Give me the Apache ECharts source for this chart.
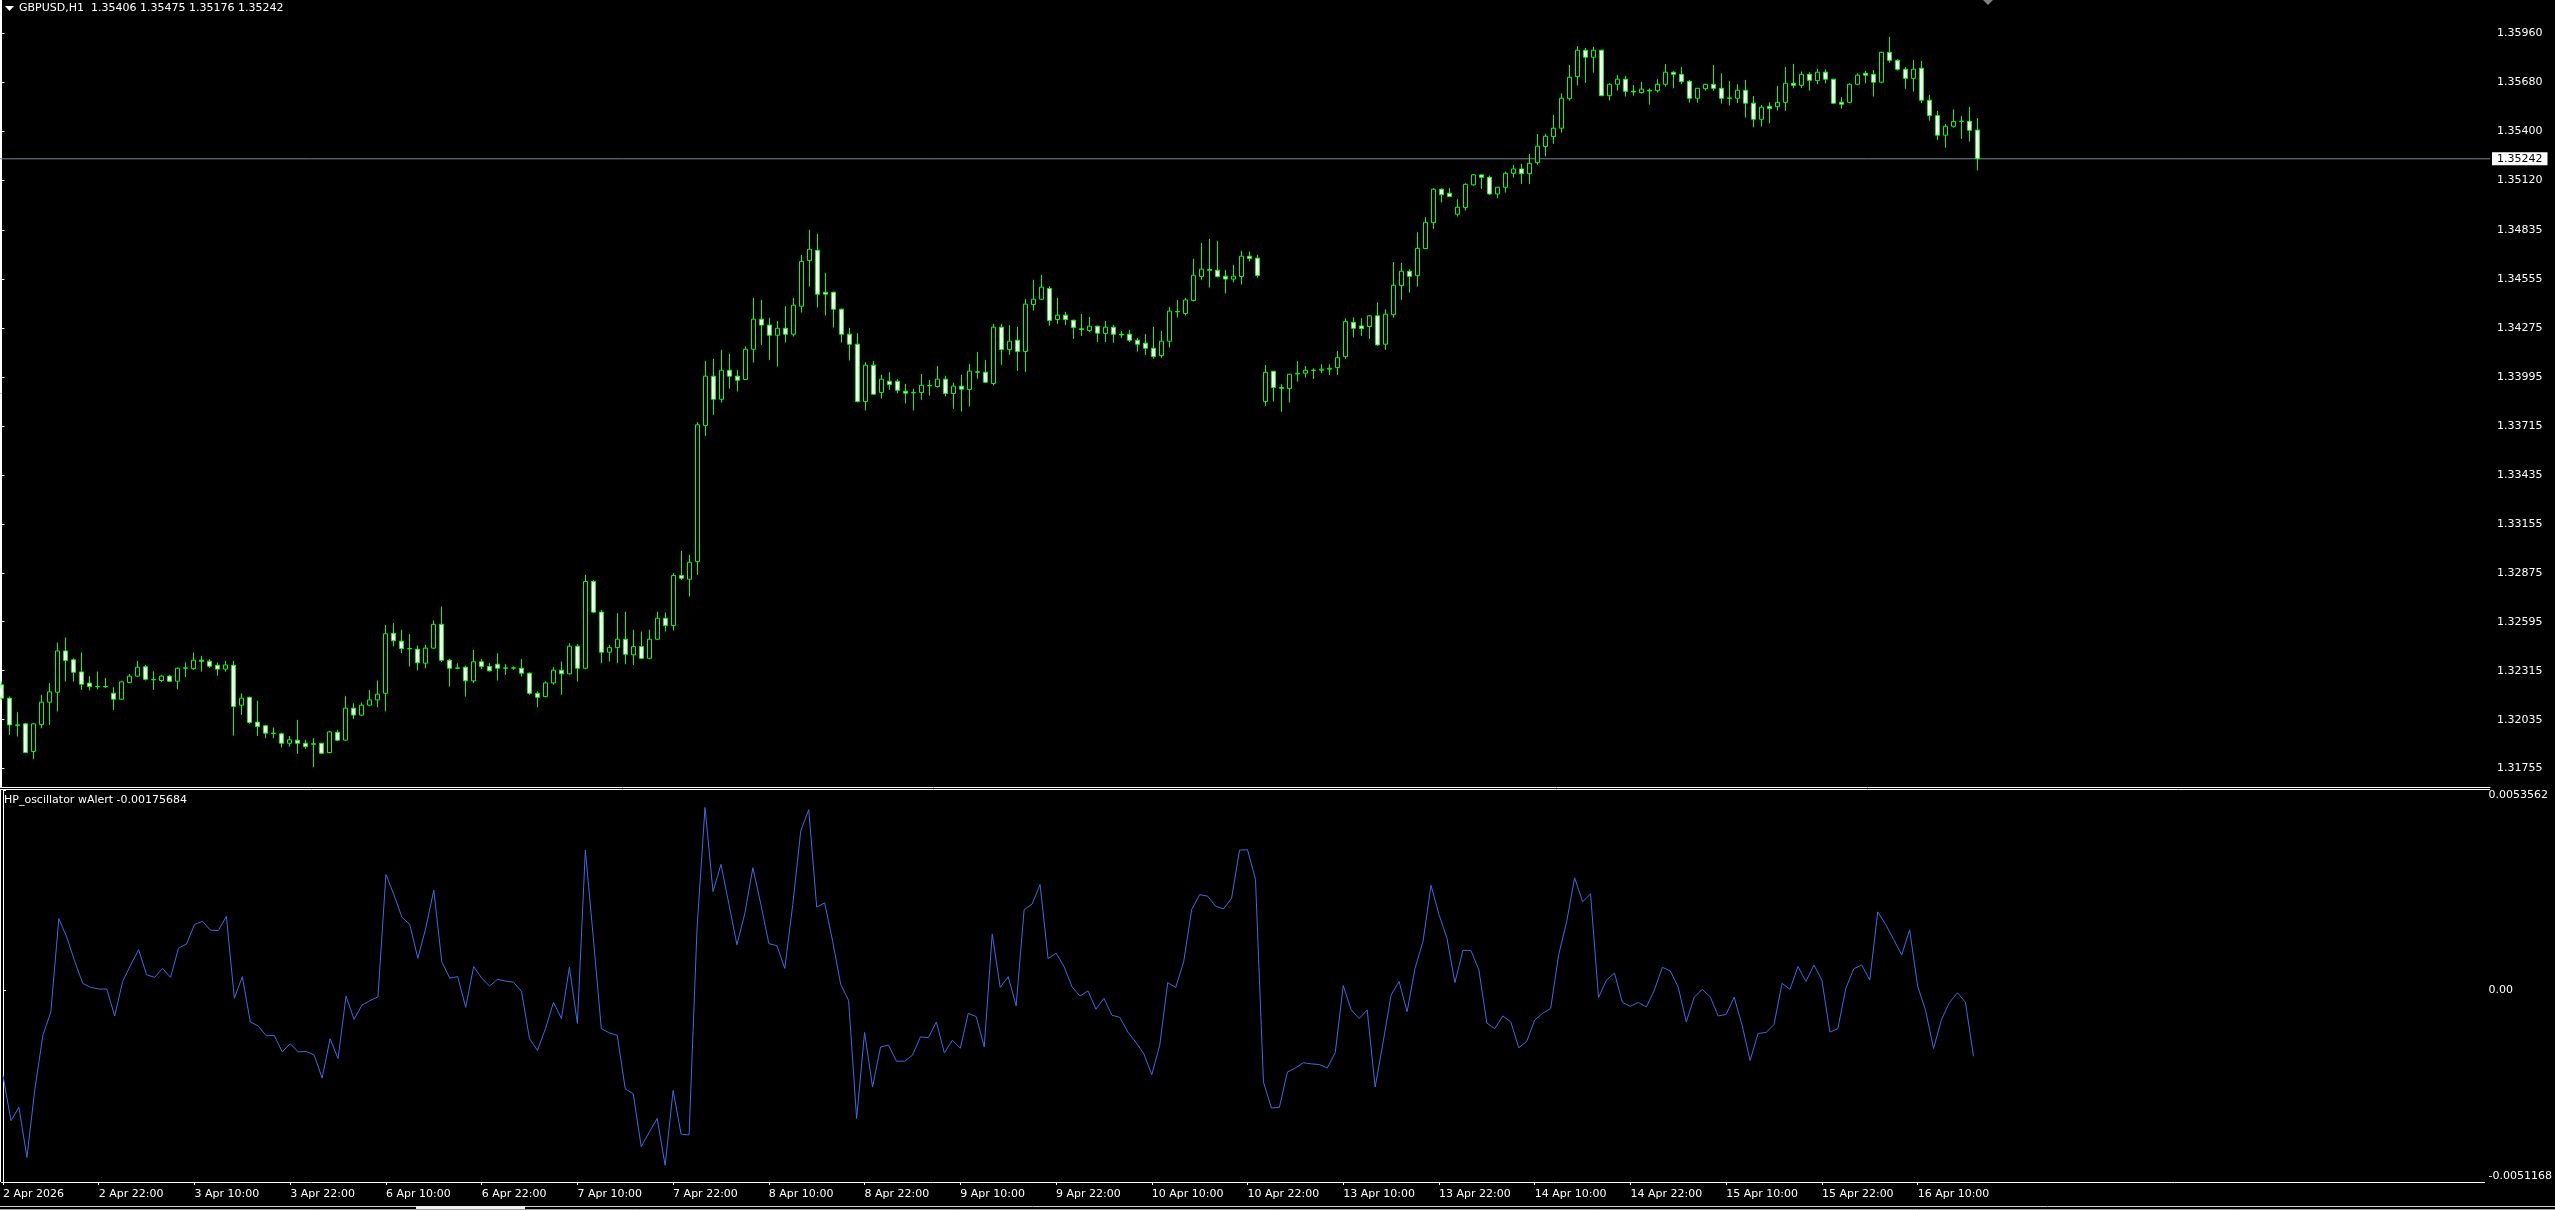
<!DOCTYPE html>
<html><head><meta charset="utf-8">
<script src="https://cdn.jsdelivr.net/npm/echarts@6/dist/echarts.min.js"></script>
<style>html,body{margin:0;padding:0;background:#000;overflow:hidden}#c{width:2555px;height:1210px}</style>
</head><body><div id="c"></div>
<script>
const symbolName = 'GBPUSD,H1';
const indicatorName = 'HP_oscillator wAlert';

const openP = [1.32234,1.32158,1.32005,1.32011,1.31853,1.32007,1.32135,1.32192,1.32428,1.32377,1.32308,1.32244,1.32224,1.32225,1.32186,1.32152,1.32247,1.32284,1.32337,1.32265,1.32259,1.32284,1.32255,1.32329,1.32327,1.32375,1.32369,1.32346,1.32324,1.32346,1.32118,1.32163,1.32021,1.32000,1.31958,1.31954,1.31900,1.31918,1.31900,1.31897,1.31900,1.31847,1.31963,1.31918,1.32101,1.32061,1.32118,1.32148,1.32186,1.32529,1.32484,1.32442,1.32438,1.32358,1.32444,1.32580,1.32375,1.32331,1.32335,1.32257,1.32366,1.32339,1.32352,1.32331,1.32331,1.32329,1.32301,1.32186,1.32167,1.32245,1.32318,1.32297,1.32455,1.32329,1.32825,1.32650,1.32421,1.32447,1.32495,1.32406,1.32453,1.32386,1.32495,1.32615,1.32573,1.32859,1.32838,1.32939,1.33717,1.33999,1.33867,1.34033,1.33999,1.33980,1.34153,1.34325,1.34291,1.34233,1.34273,1.34239,1.34399,1.34660,1.34719,1.34479,1.34479,1.34382,1.34239,1.34182,1.33854,1.34062,1.33906,1.33970,1.33970,1.33913,1.33906,1.33906,1.33946,1.33940,1.33982,1.33900,1.33942,1.33923,1.34024,1.34022,1.33957,1.34279,1.34151,1.34205,1.34140,1.34409,1.34439,1.34500,1.34323,1.34348,1.34319,1.34270,1.34260,1.34285,1.34243,1.34279,1.34239,1.34239,1.34205,1.34188,1.34159,1.34117,1.34199,1.34369,1.34357,1.34432,1.34569,1.34609,1.34605,1.34571,1.34554,1.34569,1.34685,1.34674,1.33854,1.34027,1.33934,1.33928,1.34012,1.34016,1.34033,1.34033,1.34039,1.34048,1.34111,1.34307,1.34286,1.34283,1.34344,1.34182,1.34351,1.34517,1.34599,1.34574,1.34729,1.34877,1.35068,1.35045,1.34925,1.34963,1.35093,1.35150,1.35136,1.35041,1.35079,1.35159,1.35184,1.35157,1.35220,1.35312,1.35369,1.35417,1.35586,1.35712,1.35863,1.35823,1.35863,1.35603,1.35668,1.35697,1.35628,1.35621,1.35634,1.35632,1.35668,1.35737,1.35725,1.35685,1.35588,1.35643,1.35668,1.35645,1.35590,1.35588,1.35634,1.35560,1.35468,1.35542,1.35540,1.35565,1.35674,1.35662,1.35725,1.35689,1.35737,1.35697,1.35565,1.35565,1.35668,1.35731,1.35725,1.35680,1.35851,1.35805,1.35754,1.35702,1.35760,1.35577,1.35489,1.35377,1.35428,1.35457,1.35457,1.35406];

const highP = [1.32253,1.32167,1.32078,1.32015,1.32015,1.32177,1.32244,1.32476,1.32505,1.32386,1.32419,1.32285,1.32310,1.32274,1.32221,1.32257,1.32297,1.32371,1.32348,1.32312,1.32291,1.32291,1.32333,1.32362,1.32419,1.32400,1.32381,1.32362,1.32371,1.32371,1.32186,1.32167,1.32143,1.32005,1.31990,1.31961,1.31942,1.32034,1.31920,1.31929,1.31902,1.31971,1.31977,1.32169,1.32129,1.32133,1.32205,1.32259,1.32577,1.32587,1.32549,1.32524,1.32459,1.32463,1.32602,1.32682,1.32383,1.32358,1.32343,1.32434,1.32381,1.32358,1.32415,1.32352,1.32339,1.32381,1.32305,1.32196,1.32255,1.32335,1.32367,1.32472,1.32467,1.32863,1.32834,1.32663,1.32463,1.32644,1.32653,1.32549,1.32539,1.32549,1.32653,1.32648,1.32873,1.33000,1.32977,1.33736,1.34087,1.34098,1.34150,1.34127,1.34035,1.34169,1.34447,1.34435,1.34333,1.34315,1.34399,1.34447,1.34693,1.34836,1.34813,1.34590,1.34482,1.34385,1.34275,1.34245,1.34079,1.34087,1.34007,1.34022,1.33982,1.33955,1.33927,1.34012,1.33978,1.34058,1.34001,1.33961,1.34007,1.34069,1.34138,1.34092,1.34298,1.34298,1.34291,1.34281,1.34441,1.34550,1.34578,1.34514,1.34447,1.34367,1.34322,1.34355,1.34338,1.34288,1.34315,1.34292,1.34258,1.34264,1.34218,1.34241,1.34281,1.34258,1.34395,1.34435,1.34447,1.34670,1.34761,1.34784,1.34773,1.34607,1.34636,1.34716,1.34712,1.34693,1.34063,1.34030,1.33953,1.34013,1.34086,1.34058,1.34044,1.34067,1.34067,1.34143,1.34330,1.34336,1.34330,1.34349,1.34422,1.34382,1.34652,1.34647,1.34610,1.34822,1.34908,1.35074,1.35074,1.35074,1.35011,1.35102,1.35155,1.35155,1.35146,1.35082,1.35169,1.35207,1.35213,1.35270,1.35384,1.35384,1.35493,1.35617,1.35779,1.35887,1.35876,1.35882,1.35866,1.35674,1.35722,1.35716,1.35664,1.35682,1.35645,1.35697,1.35784,1.35743,1.35767,1.35693,1.35648,1.35671,1.35779,1.35731,1.35687,1.35668,1.35693,1.35601,1.35550,1.35565,1.35659,1.35767,1.35784,1.35741,1.35737,1.35756,1.35754,1.35699,1.35594,1.35674,1.35731,1.35744,1.35750,1.35855,1.35939,1.35811,1.35767,1.35807,1.35802,1.35607,1.35516,1.35441,1.35525,1.35487,1.35539,1.35475];

const lowP = [1.32148,1.31948,1.31939,1.31843,1.31809,1.31986,1.32005,1.32082,1.32253,1.32253,1.32205,1.32202,1.32209,1.32215,1.32091,1.32148,1.32244,1.32282,1.32259,1.32205,1.32251,1.32251,1.32209,1.32278,1.32320,1.32310,1.32331,1.32287,1.32310,1.31944,1.32062,1.32011,1.31942,1.31929,1.31929,1.31876,1.31881,1.31839,1.31868,1.31763,1.31838,1.31843,1.31914,1.31915,1.32038,1.32057,1.32114,1.32106,1.32082,1.32453,1.32415,1.32339,1.32316,1.32329,1.32440,1.32364,1.32224,1.32324,1.32167,1.32244,1.32324,1.32310,1.32259,1.32291,1.32320,1.32282,1.32177,1.32106,1.32163,1.32234,1.32177,1.32294,1.32253,1.32324,1.32644,1.32358,1.32367,1.32358,1.32352,1.32348,1.32381,1.32381,1.32491,1.32539,1.32545,1.32834,1.32739,1.32863,1.33658,1.33778,1.33848,1.33927,1.33911,1.33977,1.34077,1.34178,1.34092,1.34054,1.34191,1.34226,1.34363,1.34512,1.34392,1.34346,1.34277,1.34191,1.34089,1.33848,1.33803,1.33892,1.33871,1.33921,1.33902,1.33843,1.33803,1.33864,1.33888,1.33934,1.33883,1.33812,1.33797,1.33826,1.33984,1.33961,1.33946,1.34064,1.34121,1.34029,1.34024,1.34374,1.34435,1.34287,1.34298,1.34292,1.34212,1.34230,1.34252,1.34195,1.34195,1.34190,1.34218,1.34195,1.34140,1.34121,1.34100,1.34104,1.34163,1.34334,1.34346,1.34426,1.34550,1.34506,1.34563,1.34472,1.34535,1.34523,1.34655,1.34563,1.33829,1.33854,1.33796,1.33848,1.33968,1.33991,1.33983,1.34016,1.34006,1.34006,1.34098,1.34220,1.34229,1.34212,1.34172,1.34149,1.34334,1.34435,1.34477,1.34511,1.34726,1.34841,1.34992,1.35023,1.34912,1.34946,1.35089,1.35070,1.35035,1.35018,1.35049,1.35135,1.35098,1.35098,1.35207,1.35255,1.35327,1.35392,1.35575,1.35661,1.35676,1.35735,1.35600,1.35575,1.35632,1.35598,1.35603,1.35615,1.35552,1.35621,1.35655,1.35645,1.35668,1.35563,1.35563,1.35632,1.35632,1.35558,1.35546,1.35560,1.35478,1.35422,1.35426,1.35445,1.35518,1.35516,1.35645,1.35647,1.35632,1.35668,1.35674,1.35556,1.35529,1.35560,1.35664,1.35674,1.35598,1.35674,1.35792,1.35746,1.35642,1.35626,1.35560,1.35460,1.35350,1.35306,1.35420,1.35356,1.35340,1.35176];

const closeP = [1.32158,1.32005,1.32003,1.31847,1.32011,1.32135,1.32194,1.32428,1.32373,1.32306,1.32238,1.32224,1.32223,1.32223,1.32152,1.32251,1.32284,1.32335,1.32266,1.32263,1.32284,1.32255,1.32329,1.32331,1.32375,1.32369,1.32341,1.32324,1.32348,1.32110,1.32158,1.32019,1.31996,1.31958,1.31956,1.31900,1.31920,1.31900,1.31881,1.31895,1.31843,1.31965,1.31918,1.32101,1.32061,1.32118,1.32148,1.32181,1.32526,1.32486,1.32442,1.32440,1.32360,1.32444,1.32580,1.32375,1.32329,1.32329,1.32257,1.32366,1.32339,1.32314,1.32329,1.32329,1.32330,1.32301,1.32186,1.32163,1.32245,1.32318,1.32297,1.32455,1.32329,1.32825,1.32650,1.32421,1.32447,1.32495,1.32409,1.32453,1.32386,1.32495,1.32615,1.32573,1.32859,1.32844,1.32935,1.33721,1.33999,1.33867,1.34033,1.33999,1.33976,1.34153,1.34325,1.34291,1.34233,1.34273,1.34239,1.34405,1.34655,1.34725,1.34468,1.34468,1.34382,1.34239,1.34182,1.33854,1.34062,1.33896,1.33982,1.33951,1.33919,1.33902,1.33904,1.33947,1.33944,1.33982,1.33900,1.33942,1.33925,1.34028,1.34022,1.33965,1.34279,1.34151,1.34199,1.34140,1.34411,1.34439,1.34508,1.34317,1.34348,1.34323,1.34277,1.34266,1.34285,1.34245,1.34279,1.34239,1.34235,1.34205,1.34182,1.34159,1.34111,1.34199,1.34371,1.34367,1.34435,1.34576,1.34611,1.34605,1.34569,1.34554,1.34571,1.34685,1.34672,1.34575,1.34021,1.33934,1.33930,1.34010,1.34016,1.34033,1.34032,1.34039,1.34044,1.34105,1.34311,1.34273,1.34271,1.34344,1.34178,1.34353,1.34519,1.34599,1.34570,1.34730,1.34879,1.35068,1.35037,1.35026,1.34965,1.35096,1.35150,1.35136,1.35041,1.35079,1.35159,1.35184,1.35157,1.35216,1.35314,1.35371,1.35417,1.35588,1.35708,1.35863,1.35823,1.35863,1.35603,1.35668,1.35697,1.35628,1.35624,1.35640,1.35630,1.35668,1.35737,1.35725,1.35683,1.35588,1.35645,1.35668,1.35645,1.35588,1.35588,1.35634,1.35560,1.35468,1.35537,1.35529,1.35565,1.35674,1.35662,1.35725,1.35691,1.35737,1.35697,1.35560,1.35554,1.35668,1.35720,1.35720,1.35680,1.35851,1.35805,1.35754,1.35702,1.35754,1.35577,1.35489,1.35377,1.35428,1.35455,1.35456,1.35405,1.35242];

const hpOsc = [-0.00227,-0.00348,-0.00312,-0.00446,-0.00263,-0.00120,-0.00057,0.00192,0.00142,0.00077,0.00019,0.00008,0.00004,0.00004,-0.00068,0.00024,0.00068,0.00109,0.00042,0.00035,0.00059,0.00035,0.00113,0.00124,0.00176,0.00185,0.00161,0.00160,0.00198,-0.00021,0.00037,-0.00084,-0.00095,-0.00121,-0.00120,-0.00164,-0.00142,-0.00164,-0.00163,-0.00172,-0.00234,-0.00129,-0.00182,-0.00015,-0.00077,-0.00039,-0.00027,-0.00017,0.00310,0.00256,0.00196,0.00176,0.00086,0.00167,0.00268,0.00077,0.00033,0.00037,-0.00045,0.00064,0.00033,0.00012,0.00030,0.00025,0.00022,-0.00003,-0.00129,-0.00160,-0.00102,-0.00032,-0.00075,0.00062,-0.00088,0.00375,0.00140,-0.00102,-0.00113,-0.00120,-0.00263,-0.00276,-0.00417,-0.00379,-0.00342,-0.00467,-0.00267,-0.00384,-0.00386,0.00167,0.00489,0.00264,0.00337,0.00230,0.00122,0.00207,0.00328,0.00230,0.00125,0.00120,0.00059,0.00230,0.00426,0.00483,0.00223,0.00234,0.00131,0.00017,-0.00027,-0.00342,-0.00112,-0.00258,-0.00151,-0.00146,-0.00189,-0.00189,-0.00173,-0.00124,-0.00126,-0.00084,-0.00167,-0.00133,-0.00154,-0.00061,-0.00070,-0.00151,0.00151,0.00008,0.00037,-0.00041,0.00216,0.00231,0.00283,0.00085,0.00100,0.00064,0.00010,-0.00015,-0.00001,-0.00050,-0.00021,-0.00066,-0.00072,-0.00111,-0.00138,-0.00169,-0.00225,-0.00146,0.00021,0.00008,0.00077,0.00216,0.00256,0.00252,0.00225,0.00218,0.00246,0.00375,0.00376,0.00297,-0.00245,-0.00314,-0.00312,-0.00218,-0.00207,-0.00193,-0.00196,-0.00198,-0.00207,-0.00166,0.00013,-0.00052,-0.00075,-0.00052,-0.00258,-0.00138,-0.00012,0.00024,-0.00057,0.00059,0.00131,0.00281,0.00203,0.00140,0.00021,0.00107,0.00107,0.00055,-0.00087,-0.00102,-0.00068,-0.00084,-0.00153,-0.00136,-0.00079,-0.00061,-0.00048,0.00095,0.00183,0.00301,0.00237,0.00258,-0.00019,0.00028,0.00046,-0.00032,-0.00042,-0.00032,-0.00044,0.00001,0.00062,0.00052,0.00008,-0.00084,-0.00018,0.00003,-0.00017,-0.00068,-0.00064,-0.00018,-0.00093,-0.00187,-0.00115,-0.00112,-0.00091,0.00019,0.00003,0.00064,0.00024,0.00068,0.00028,-0.00111,-0.00102,0.00006,0.00058,0.00068,0.00028,0.00210,0.00176,0.00136,0.00095,0.00162,0.00012,-0.00054,-0.00155,-0.00077,-0.00032,-0.00006,-0.00032,-0.00175684];

const timeTickBars = [0,12,24,36,48,60,72,84,96,108,120,132,144,156,168,180,192,204,216,228,240];
const timeTickLabels = ['2 Apr 2026','2 Apr 22:00','3 Apr 10:00','3 Apr 22:00','6 Apr 10:00','6 Apr 22:00','7 Apr 10:00','7 Apr 22:00','8 Apr 10:00','8 Apr 22:00','9 Apr 10:00','9 Apr 22:00','10 Apr 10:00','10 Apr 22:00','13 Apr 10:00','13 Apr 22:00','14 Apr 10:00','14 Apr 22:00','15 Apr 10:00','15 Apr 22:00','16 Apr 10:00'];
const priceTicks = [1.35960,1.35680,1.35400,1.35120,1.34835,1.34555,1.34275,1.33995,1.33715,1.33435,1.33155,1.32875,1.32595,1.32315,1.32035,1.31755];
const oscTicks = [0.0053562, 0, -0.0051168];

const priceMin = 1.3165, priceMax = 1.3615;
const oscMin = -0.0051168, oscMax = 0.0053562;
const barMin = -0.1875, barMax = 311.0625;

const last = openP.length - 1;
const candles = openP.map((o, i) => [i, o, closeP[i], lowP[i], highP[i]]);
const oscData = hpOsc.map((v, i) => [i, v]);
const bidLine = [[barMin, closeP[last]], [barMax, closeP[last]]];
const FONT = 'DejaVu Sans';
const fmt5 = v => v.toFixed(5);

const chart = echarts.init(document.getElementById('c'), null, {renderer: 'canvas'});
chart.setOption({
  backgroundColor: '#000',
  animation: false,
  grid: [
    {left: 0, right: 65, top: 0, height: 787},
    {left: 0, right: 65, top: 790, height: 392}
  ],
  xAxis: [
    {type: 'value', gridIndex: 0, min: barMin, max: barMax,
      axisLine: {show: true, onZero: false, lineStyle: {color: '#fff', width: 1}},
      axisTick: {show: false}, axisLabel: {show: false}, splitLine: {show: false}},
    {type: 'value', gridIndex: 1, min: barMin, max: barMax,
      axisLine: {show: true, onZero: false, lineStyle: {color: '#fff', width: 1}},
      axisTick: {show: true, length: 3, customValues: timeTickBars, lineStyle: {color: '#fff'}},
      axisLabel: {show: true, customValues: timeTickBars, align: 'left', margin: 7, color: '#fff',
        fontFamily: FONT, fontSize: 11,
        formatter: v => timeTickLabels[timeTickBars.indexOf(Math.round(v))] || ''},
      splitLine: {show: false}}
  ],
  yAxis: [
    {type: 'value', gridIndex: 0, position: 'right', min: priceMin, max: priceMax,
      axisLine: {show: true, lineStyle: {color: '#fff', width: 1}},
      axisTick: {show: true, length: 3, customValues: priceTicks, lineStyle: {color: '#fff'}},
      axisLabel: {show: true, customValues: priceTicks, formatter: fmt5, margin: 7, color: '#fff',
        fontFamily: FONT, fontSize: 11},
      splitLine: {show: false}},
    {type: 'value', gridIndex: 0, position: 'right', min: priceMin, max: priceMax,
      axisLine: {show: false}, axisTick: {show: false}, splitLine: {show: false},
      axisLabel: {show: true, customValues: [closeP[last]], formatter: fmt5, margin: 2,
        color: '#000', backgroundColor: '#fff', padding: [1, 5, 0, 5], lineHeight: 12,
        fontFamily: FONT, fontSize: 11}},
    {type: 'value', gridIndex: 1, position: 'right', min: oscMin, max: oscMax,
      axisLine: {show: true, lineStyle: {color: '#fff', width: 1}},
      axisTick: {show: true, length: 3, customValues: oscTicks, lineStyle: {color: '#fff'}},
      axisLabel: {show: true, customValues: oscTicks, margin: 4, color: '#fff',
        fontFamily: FONT, fontSize: 11,
        verticalAlignMaxLabel: 'bottom', verticalAlignMinLabel: 'top',
        formatter: v => v === 0 ? '0.00' : String(v)},
      splitLine: {show: false}}
  ],
  series: [
    {type: 'line', xAxisIndex: 0, yAxisIndex: 0, data: bidLine, symbol: 'none', silent: true, z: 1,
      lineStyle: {color: '#778899', width: 1}},
    {type: 'candlestick', xAxisIndex: 0, yAxisIndex: 0, data: candles, barWidth: 4,
      large: false, silent: true, z: 2,
      itemStyle: {color: '#000', color0: '#fff', borderColor: '#00ff00', borderColor0: '#00ff00',
        borderColorDoji: '#00ff00', borderWidth: 1}},
    {type: 'line', xAxisIndex: 1, yAxisIndex: 2, data: oscData, showSymbol: false, symbol: 'none',
      silent: true, lineStyle: {color: '#4169E1', width: 1}}
  ],
  graphic: [
    {type: 'polygon', shape: {points: [[5, 6], [14, 6], [9.5, 11]]}, style: {fill: '#fff'}},
    {type: 'text', x: 19, y: 8.5, style: {text: `${symbolName}  ${fmt5(openP[last])} ${fmt5(highP[last])} ${fmt5(lowP[last])} ${fmt5(closeP[last])}`,
      fill: '#fff', font: `11px ${FONT}`, verticalAlign: 'middle'}},
    {type: 'text', x: 4, y: 800.5, style: {text: `${indicatorName} ${hpOsc[last]}`,
      fill: '#fff', font: `11px ${FONT}`, verticalAlign: 'middle'}},
    {type: 'line', shape: {x1: 0.5, y1: 0, x2: 0.5, y2: 787}, style: {stroke: '#fff', lineWidth: 1}},
    {type: 'line', shape: {x1: 0.5, y1: 789.5, x2: 0.5, y2: 1182}, style: {stroke: '#fff', lineWidth: 1}},
    {type: 'line', shape: {x1: 0, y1: 789.5, x2: 2490, y2: 789.5}, style: {stroke: '#fff', lineWidth: 1}},
    {type: 'polygon', shape: {points: [[1983, 0], [1993, 0], [1988, 5]]}, style: {fill: '#808080'}},
    {type: 'line', shape: {x1: 0, y1: 1206.5, x2: 416, y2: 1206.5}, style: {stroke: '#d0d0d0', lineWidth: 1}},
    {type: 'line', shape: {x1: 525, y1: 1206.5, x2: 2555, y2: 1206.5}, style: {stroke: '#d0d0d0', lineWidth: 1}},
    {type: 'rect', shape: {x: 416, y: 1206, width: 109, height: 4}, style: {fill: '#f0f0f0'}},
    {type: 'line', shape: {x1: 0, y1: 1209.5, x2: 2555, y2: 1209.5}, style: {stroke: '#a0a0a0', lineWidth: 1}}
  ]
});
</script></body></html>
